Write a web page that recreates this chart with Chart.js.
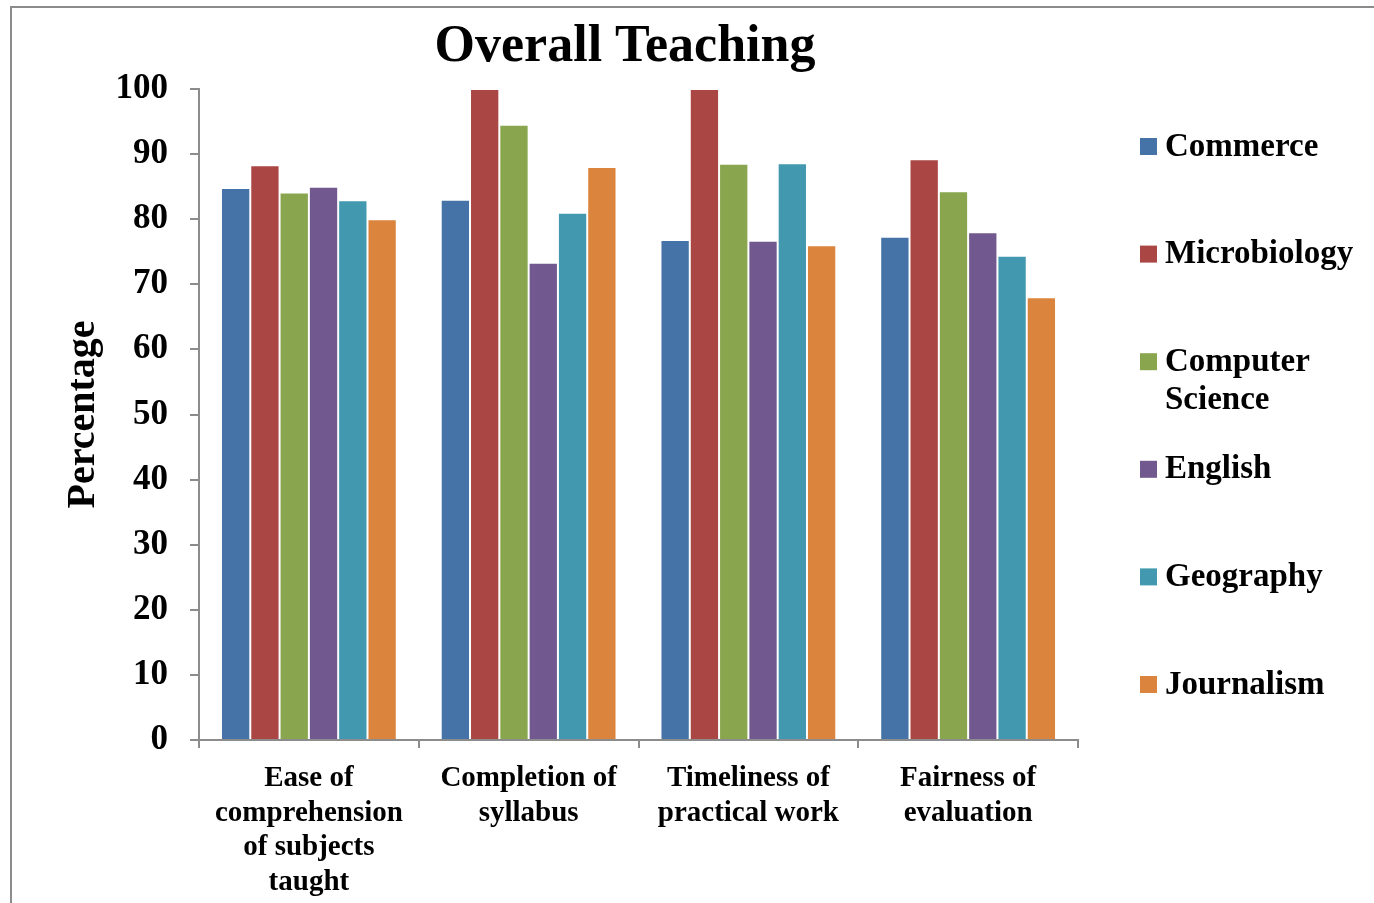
<!DOCTYPE html>
<html>
<head>
<meta charset="utf-8">
<script src="https://cdn.jsdelivr.net/npm/chart.js@4.4.1/dist/chart.umd.min.js"></script>
<style>
html,body{margin:0;padding:0;background:#fff;}
canvas{display:block;}
</style>
</head>
<body>
<canvas id="c" width="1374" height="903"></canvas>
<script>
const categories = [
  ["Ease of", "comprehension", "of subjects", "taught"],
  ["Completion of", "syllabus"],
  ["Timeliness of", "practical work"],
  ["Fairness of", "evaluation"]
];
const seriesNames = ["Commerce", "Microbiology", "Computer Science", "English", "Geography", "Journalism"];
const legendLines = [["Commerce"], ["Microbiology"], ["Computer", "Science"], ["English"], ["Geography"], ["Journalism"]];
const commerce     = [84.8, 83.0, 76.8, 77.3];
const microbiology = [88.3, 100.0, 100.0, 89.2];
const computerSci  = [84.1, 94.5, 88.5, 84.3];
const english      = [85.0, 73.3, 76.7, 78.0];
const geography    = [82.9, 81.0, 88.6, 74.4];
const journalism   = [80.0, 88.0, 76.0, 68.0];
const yTicks = [0, 10, 20, 30, 40, 50, 60, 70, 80, 90, 100];
const colors = ["#4572A7", "#AA4643", "#89A54E", "#71588F", "#4198AF", "#DB843D"];
const titleText = "Overall Teaching";
const yTitle = "Percentage";

const seriesValues = [commerce, microbiology, computerSci, english, geography, journalism];
const SERIF = "'Liberation Serif', 'Times New Roman', serif";
const AXIS = "#8c8c8c";

const framePlugin = {
  id: 'frame',
  beforeDraw(chart) {
    const ctx = chart.ctx;
    ctx.save();
    ctx.fillStyle = '#fff';
    ctx.fillRect(0, 0, chart.width, chart.height);
    ctx.strokeStyle = AXIS;
    ctx.lineWidth = 2;
    ctx.beginPath();
    ctx.moveTo(11, chart.height + 5);
    ctx.lineTo(11, 7);
    ctx.lineTo(chart.width + 5, 7);
    ctx.stroke();
    ctx.restore();
  },
  afterDraw(chart) {
    const ctx = chart.ctx;
    ctx.save();
    ctx.fillStyle = '#000';
    ctx.font = "bold 52px " + SERIF;
    ctx.textAlign = 'center';
    ctx.textBaseline = 'middle';
    ctx.fillText(titleText, 625, 48);
    ctx.font = "bold 33px " + SERIF;
    ctx.textAlign = 'left';
    const y0 = 147, step = 107.6;
    chart.data.datasets.forEach((ds, i) => {
      const cy = y0 + i * step;
      ctx.fillStyle = ds.backgroundColor;
      ctx.fillRect(1140, cy - 9, 17, 17);
      ctx.fillStyle = '#000';
      legendLines[i].forEach((ln, j) => {
        ctx.fillText(ln, 1165, cy + j * 38);
      });
    });
    ctx.restore();
  }
};

new Chart(document.getElementById('c'), {
  type: 'bar',
  data: {
    labels: categories,
    datasets: seriesNames.map((n, i) => ({
      label: n,
      data: seriesValues[i],
      backgroundColor: colors[i],
      borderColor: 'rgba(255,255,255,0.35)',
      borderWidth: 1,
      categoryPercentage: 0.8,
      barPercentage: 1.0
    }))
  },
  options: {
    responsive: false,
    animation: false,
    devicePixelRatio: 1,
    layout: { padding: { top: 89, right: 296, left: 0, bottom: 0 } },
    plugins: {
      legend: { display: false },
      title: { display: false },
      tooltip: { enabled: false }
    },
    scales: {
      x: {
        grid: { display: true, drawOnChartArea: false, drawTicks: true, tickLength: 8, color: AXIS, lineWidth: 2, offset: true },
        border: { display: true, color: AXIS, width: 2 },
        ticks: {
          color: '#000',
          font: { family: SERIF, size: 29, weight: 'bold', lineHeight: 1.2 },
          padding: 13,
          maxRotation: 0,
          autoSkip: false
        },
        afterFit(scale) { scale.height = 163; }
      },
      y: {
        min: 0,
        max: 100,
        afterBuildTicks(scale) { scale.ticks = yTicks.map(v => ({ value: v })); },
        grid: { display: true, drawOnChartArea: false, drawTicks: true, tickLength: 9, color: AXIS, lineWidth: 2 },
        border: { display: true, color: AXIS, width: 2 },
        ticks: {
          color: '#000',
          font: { family: SERIF, size: 35, weight: 'bold' },
          padding: 22
        },
        title: {
          display: true,
          text: yTitle,
          color: '#000',
          font: { family: SERIF, size: 40, weight: 'bold', lineHeight: 1.2 },
          padding: { top: 60, bottom: 0 }
        },
        afterFit(scale) { scale.width = 199; }
      }
    }
  },
  plugins: [framePlugin]
});
</script>
</body>
</html>
